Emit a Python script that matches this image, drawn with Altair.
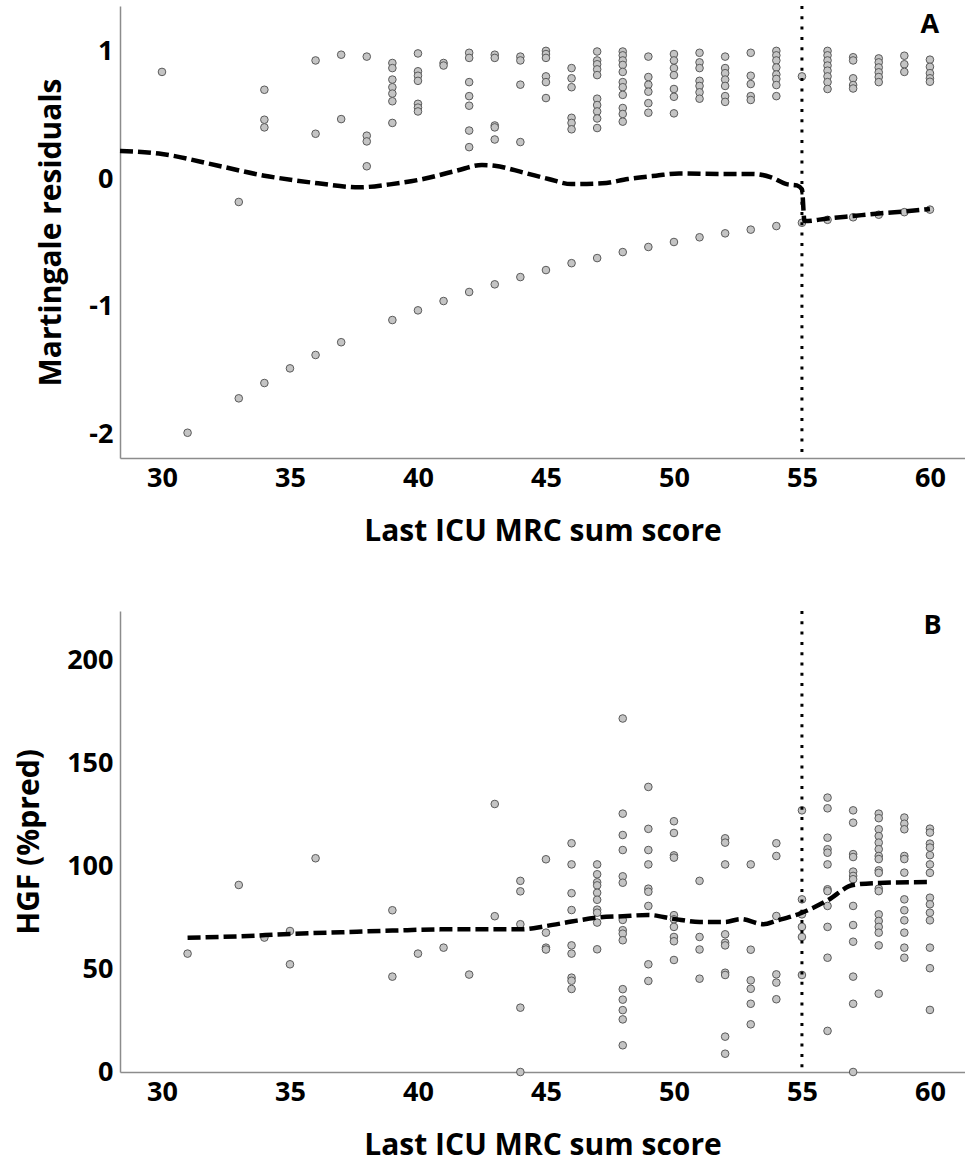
import altair as alt
import pandas as pd

FONT = "Open Sans"

# ---------------- Panel A: Martingale residuals ----------------
a_upper = {
    30: [0.84],
    33: [-0.18],
    34: [0.70, 0.465, 0.405],
    36: [0.93, 0.355],
    37: [0.975, 0.47],
    38: [0.96, 0.34, 0.295, 0.10],
    39: [0.91, 0.87, 0.78, 0.72, 0.67, 0.61, 0.44],
    40: [0.985, 0.845, 0.81, 0.77, 0.59, 0.56, 0.53],
    41: [0.91, 0.89],
    42: [0.99, 0.95, 0.76, 0.65, 0.575, 0.38, 0.25],
    43: [0.975, 0.95, 0.42, 0.405, 0.31],
    44: [0.96, 0.93, 0.74, 0.29],
    45: [1.005, 0.98, 0.95, 0.805, 0.76, 0.635],
    46: [0.87, 0.79, 0.72, 0.48, 0.44, 0.39],
    47: [1.0, 0.93, 0.90, 0.86, 0.815, 0.63, 0.58, 0.53, 0.475, 0.40],
    48: [1.0, 0.97, 0.93, 0.895, 0.84, 0.76, 0.72, 0.66, 0.557, 0.51, 0.45],
    49: [0.96, 0.80, 0.74, 0.685, 0.595, 0.52],
    50: [0.98, 0.93, 0.87, 0.815, 0.706, 0.645, 0.515],
    51: [0.99, 0.915, 0.87, 0.77, 0.73, 0.68, 0.63],
    52: [0.96, 0.87, 0.83, 0.78, 0.73, 0.65, 0.605],
    53: [0.99, 0.81, 0.745, 0.65, 0.62],
    54: [1.005, 0.97, 0.93, 0.875, 0.82, 0.785, 0.737, 0.65],
    55: [0.805],
    56: [1.005, 0.97, 0.93, 0.89, 0.85, 0.805, 0.76, 0.706],
    57: [0.955, 0.93, 0.79, 0.737, 0.71],
    58: [0.946, 0.915, 0.875, 0.837, 0.80, 0.76],
    59: [0.967, 0.90, 0.84],
    60: [0.936, 0.88, 0.83, 0.79, 0.763],
}
a_lower_x = [31, 33, 34, 35, 36, 37, 39, 40, 41, 42, 43, 44, 45, 46, 47, 48,
             49, 50, 51, 52, 53, 54, 55, 56, 57, 58, 59, 60]
a_lower_y = [-1.99, -1.72, -1.60, -1.485, -1.38, -1.28, -1.106, -1.03, -0.957,
             -0.886, -0.826, -0.769, -0.714, -0.66, -0.62, -0.573, -0.533,
             -0.494, -0.457, -0.426, -0.397, -0.369, -0.343, -0.32, -0.30,
             -0.28, -0.26, -0.24]
a_line_x = [28.36, 30, 32.2, 34, 35.1, 36.1, 37.7, 38.9, 40.2, 41.5, 42.5, 43,
            44.1, 45.1, 46, 47.2, 48.2, 49.3, 50.2, 51.8, 53.1, 53.8, 54.4,
            54.8, 55.0, 55.1, 56, 57, 58, 59, 60]
a_line_y = [0.22, 0.196, 0.104, 0.026, -0.008, -0.034, -0.065, -0.042, 0.0,
            0.065, 0.11, 0.104, 0.052, 0.0, -0.04, -0.034, 0.0, 0.026, 0.044,
            0.04, 0.04, 0.013, -0.04, -0.05, -0.08, -0.33, -0.31, -0.29,
            -0.27, -0.255, -0.235]

# ---------------- Panel B: HGF (%pred) ----------------
b_points = {
    31: [57.6],
    33: [91],
    34: [65.4],
    35: [68.6, 52.4],
    36: [104],
    39: [78.7, 46.4],
    40: [57.6],
    41: [60.5],
    42: [47.4],
    43: [130.4, 75.8],
    44: [93, 87.9, 71.9, 31.3, 0],
    45: [103.5, 67.8, 60.5, 59.6],
    46: [111.3, 101, 87, 78.8, 61.6, 57.6, 45.9, 44.4, 40.4],
    47: [101, 96.2, 92.3, 90.8, 87.2, 83.8, 79, 77.5, 72.7, 59.7],
    48: [172, 125.7, 115.3, 108, 95.2, 92.1, 74, 69, 67.3, 64.1, 40.3, 35.2,
         30.1, 25.6, 13],
    49: [138.7, 118.3, 108, 101, 89.2, 87.7, 80.8, 52.4, 44.3],
    50: [122, 116.3, 105.4, 104.3, 76.3, 74.3, 70.6, 65.7, 63.6, 54.5],
    51: [93, 65.7, 59.6, 45.4],
    52: [113.7, 111.6, 101, 67, 62.9, 61.6, 48.3, 47.2, 17.2, 8.9],
    53: [101, 59.5, 44.6, 40.5, 33.2, 23.2],
    54: [111.3, 105.1, 75.9, 47.5, 43.5, 35.4],
    55: [127.3, 84, 76.7, 70.6, 65.7, 47.2],
    56: [133.5, 128.3, 114, 108.4, 106.7, 101, 88.9, 88, 80.8, 70.6, 55.6, 20],
    57: [127.3, 121.3, 106, 104.6, 97.5, 95.4, 93.8, 80.8, 71.5, 63.4, 46.4,
         33.2, 0],
    58: [125.7, 123.5, 118.1, 114.8, 111.6, 108.4, 105.1, 103.6, 98.1, 96.9,
         89.2, 88, 76.7, 73.5, 70.6, 67.8, 61.6, 38.1],
    59: [123.8, 120.8, 118.1, 105.1, 103.6, 97, 84, 78.7, 73.8, 67.8, 60.5,
         55.6],
    60: [118.4, 116.5, 111.1, 109.2, 105.5, 101, 96.9, 84.8, 81.6, 77.5, 73.8,
         60.5, 50.5, 30.2],
}
b_line_x = [31, 33, 35, 37, 39, 41, 43, 44, 45, 46, 47, 48, 49, 50, 51, 52,
            52.6, 53.5, 54, 55, 56, 57, 58, 60]
b_line_y = [65.3, 66, 67.2, 68, 68.8, 69.4, 69.4, 69.4, 71, 73.2, 75.1, 75.8,
            76.4, 74.5, 73, 73, 74.4, 71.9, 73.6, 77.5, 83.5, 91, 92, 92.4]

cutoff = [55]
x_domain = [28.36, 61.37]
x_ticks = [30, 35, 40, 45, 50, 55, 60]
a_y_domain = [-2.188, 1.357]
a_y_ticks = [-2, -1, 0, 1]
b_y_domain = [0, 224.3]
b_y_ticks = [0, 50, 100, 150, 200]
panel_labels = [{"label": "A", "x": 60.0, "y": 1.21},
                {"label": "B", "x": 60.1, "y": 217}]

# ---------------- build tables ----------------
a_pts = pd.DataFrame(
    [{"x": k, "y": v} for k, vs in a_upper.items() for v in vs]
    + [{"x": k, "y": v} for k, v in zip(a_lower_x, a_lower_y)]
)
a_line = pd.DataFrame({"x": a_line_x, "y": a_line_y})
b_pts = pd.DataFrame([{"x": k, "y": v} for k, vs in b_points.items() for v in vs])
b_line = pd.DataFrame({"x": b_line_x, "y": b_line_y})
cut_df = pd.DataFrame({"x": cutoff})

X_TITLE = "Last ICU MRC sum score"


def panel(pts, line, y_domain, y_ticks, y_title, lab, height):
    xs = alt.Scale(domain=x_domain, nice=False, zero=False)
    ys = alt.Scale(domain=y_domain, nice=False, zero=False)
    xax = alt.Axis(values=x_ticks, title=X_TITLE, labelExpr="'' + datum.value",
                   titlePadding=25)
    yax = alt.Axis(values=y_ticks, title=y_title, labelExpr="'' + datum.value")
    points = alt.Chart(pts).mark_point(
        shape="circle", filled=True, size=58, fill="#c4c4c4",
        stroke="#5a5a5a", strokeWidth=1, opacity=1
    ).encode(
        x=alt.X("x:Q", scale=xs, axis=xax),
        y=alt.Y("y:Q", scale=ys, axis=yax),
    )
    rule = alt.Chart(cut_df).mark_rule(
        color="black", strokeWidth=3, strokeDash=[3, 7.3]
    ).encode(x=alt.X("x:Q", scale=xs))
    loess = alt.Chart(line).mark_line(
        color="black", strokeWidth=4.5, strokeDash=[13, 5], interpolate="monotone"
    ).encode(x=alt.X("x:Q", scale=xs), y=alt.Y("y:Q", scale=ys), order="x:Q")
    text = alt.Chart(pd.DataFrame([lab])).mark_text(
        font=FONT, fontWeight="bold", fontSize=27, color="black",
        align="center", baseline="middle"
    ).encode(x=alt.X("x:Q", scale=xs), y=alt.Y("y:Q", scale=ys), text="label:N")
    return alt.layer(points, rule, loess, text).properties(width=845, height=height)


pa = panel(a_pts, a_line, a_y_domain, a_y_ticks, "Martingale residuals",
           panel_labels[0], 452)
pb = panel(b_pts, b_line, b_y_domain, b_y_ticks, "HGF (%pred)",
           panel_labels[1], 461)

chart = alt.vconcat(pa, pb, spacing=63).properties(
    padding={"left": 14, "top": 4, "right": 0, "bottom": 0}
).configure_view(stroke=None).configure_axis(
    domainColor="#8c8c8c", domainWidth=1.5, ticks=False, grid=False,
    labelFont=FONT, labelFontWeight="bold", labelFontSize=27, labelColor="black",
    labelPadding=7,
    titleFont=FONT, titleFontWeight="bold", titleFontSize=30, titleColor="black",
    titlePadding=22,
)

chart.save("out.html", embed_options={"renderer": "svg", "actions": False})
